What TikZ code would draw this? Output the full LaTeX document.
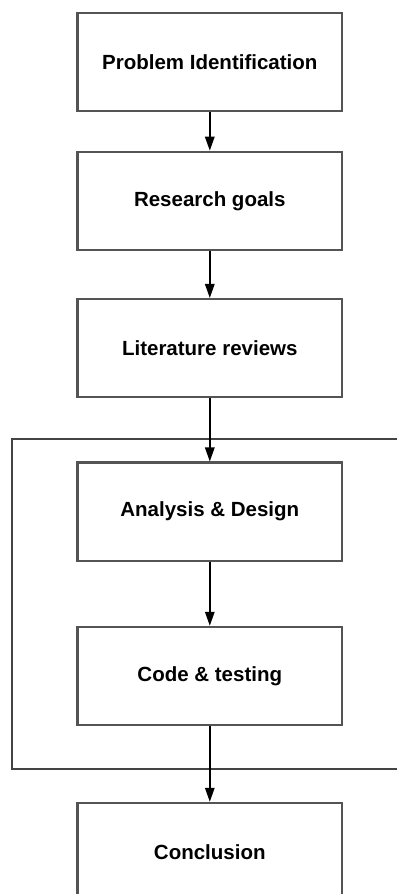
\documentclass[tikz,border=0pt]{standalone}
\usepackage{fontspec}
\setmainfont{Liberation Sans}
\usetikzlibrary{arrows.meta}

\definecolor{boxline}{rgb}{0.33,0.33,0.33}
\tikzset{
  stepbox/.style={draw=boxline, line width=2.2, minimum width=264.5, minimum height=98.3,
    inner sep=0, font=\fontsize{20.5}{24}\selectfont\bfseries},
  flow/.style={line width=1.5, -{Triangle[length=14pt,width=9.5pt]}}
}

\begin{document}
\begin{tikzpicture}[x=1pt,y=1pt,yscale=-1]
\useasboundingbox (0,0) rectangle (397,894);

%Shape: Frame round the design loop
\draw [color=boxline!80!black, line width=2] (397,438.5) -- (12.3,438.5) -- (12.3,769.3) -- (397,769.3) ;

% Step Nodes
\node [stepbox] (prob) at (209.8,61.8) {Problem Identification};
\node [stepbox] (goals) at (209.8,200.9) {Research goals};
\node [stepbox] (lit) at (209.8,348.2) {Literature reviews};
\node [stepbox] (design) at (209.8,511.7) {Analysis \& Design};
\node [stepbox] (code) at (209.8,676) {Code \& testing};
\node [stepbox] (concl) at (209.8,852) {Conclusion};

% Arrows
\draw [flow] (prob) -- (goals) ;
\draw [flow] (goals) -- (lit) ;
\draw [flow] (lit) -- (design) ;
\draw [flow] (design) -- (code) ;
\draw [flow] (code) -- (concl) ;

\end{tikzpicture}
\end{document}
